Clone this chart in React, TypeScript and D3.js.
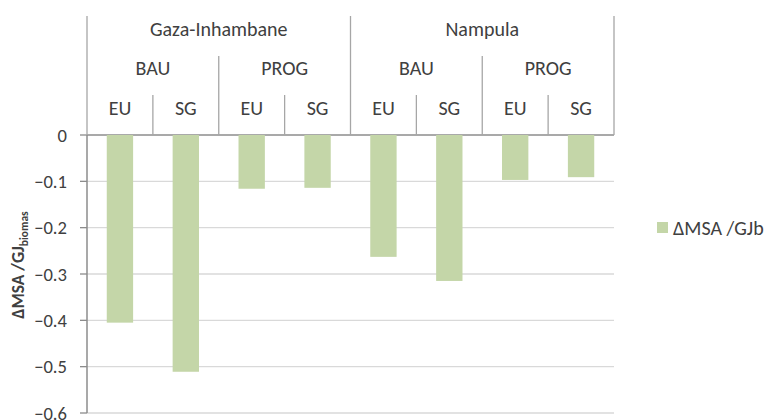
import React from "react";
import * as d3 from "d3";

const regions = ["Gaza-Inhambane", "Nampula"];
const scenarios = ["BAU", "PROG"];
const pathways = ["EU", "SG"];
const values = [-0.405, -0.511, -0.116, -0.114, -0.263, -0.315, -0.097, -0.091];
const yTicks = [0, -0.1, -0.2, -0.3, -0.4, -0.5, -0.6];
const seriesName = "ΔMSA /GJb";

const W = 768, H = 420;
const left = 87, right = 614, top0 = 135, bottom = 413;
const FONT = "Carlito, Calibri, Lato, sans-serif";
const TXT = "#404040";
const COLOR = "#c4d6a8";
const FS = 20;

export default function App() {
  const cats = d3.range(values.length);
  const x = d3.scaleBand<number>().domain(cats).range([left, right]).paddingInner(0).paddingOuter(0);
  const y = d3.scaleLinear().domain([0, -0.6]).range([top0, bottom]);
  const bw = x.bandwidth();
  const barW = bw * 0.4;
  const nS = scenarios.length * pathways.length;

  return (
    <svg width={W} height={H} style={{ display: "block", position: "absolute", left: 0, top: 0 }} fontFamily={FONT}>
      <rect width={W} height={H} fill="#fff" />
      {yTicks.map((t) => (
        <line key={"g" + t} x1={left} x2={right} y1={y(t)} y2={y(t)} stroke={t === 0 ? "#8c8c8c" : "#d9d9d9"} strokeWidth={t === 0 ? 1.5 : 1.3} />
      ))}
      {yTicks.map((t) => (
        <g key={"t" + t}>
          <line x1={80} x2={left} y1={y(t)} y2={y(t)} stroke="#8c8c8c" strokeWidth={1.3} />
          <text x={67} y={y(t)} dy="0.35em" textAnchor="end" fontSize={FS * 0.93} fill={TXT}>
            {t === 0 ? "0" : d3.format(".1f")(t)}
          </text>
        </g>
      ))}
      <line x1={left} x2={left} y1={top0} y2={bottom} stroke="#8c8c8c" strokeWidth={1.5} />
      {values.map((v, i) => (
        <rect key={i} x={(x(i) as number) + (bw - barW) / 2} y={y(0)} width={barW} height={y(v) - y(0)} fill={COLOR} />
      ))}
      {d3.range(values.length + 1).map((i) => {
        const xx = i === values.length ? right : (x(i) as number);
        const y1 = i % nS === 0 ? 16 : i % pathways.length === 0 ? 56 : 95;
        return <line key={"h" + i} x1={xx} x2={xx} y1={y1} y2={top0} stroke="#a6a6a6" strokeWidth={1.3} />;
      })}
      {regions.map((r, ri) => {
        const cx = left + bw * nS * (ri + 0.5);
        return (
          <text key={r} x={cx} y={29} dy="0.35em" textAnchor="middle" fontSize={FS} fill={TXT}>{r}</text>
        );
      })}
      {regions.flatMap((r, ri) =>
        scenarios.map((s, si) => {
          const cx = left + bw * (ri * nS + si * pathways.length + pathways.length / 2);
          return <text key={r + s} x={cx} y={68} dy="0.35em" textAnchor="middle" fontSize={FS} fill={TXT}>{s}</text>;
        })
      )}
      {cats.map((i) => (
        <text key={"p" + i} x={(x(i) as number) + bw / 2} y={108} dy="0.35em" textAnchor="middle" fontSize={FS} fill={TXT}>
          {pathways[i % pathways.length]}
        </text>
      ))}
      <text transform="translate(24,265) rotate(-90)" textAnchor="middle" fontSize={17.5} fontWeight="bold" fill={TXT}>
        ΔMSA /GJ<tspan fontSize={11.5} dy={4}>biomas</tspan>
      </text>
      <rect x={657} y={222} width={11} height={11} fill={COLOR} />
      <text x={673} y={228} dy="0.35em" fontSize={FS} fill={TXT}>{seriesName}</text>
    </svg>
  );
}
